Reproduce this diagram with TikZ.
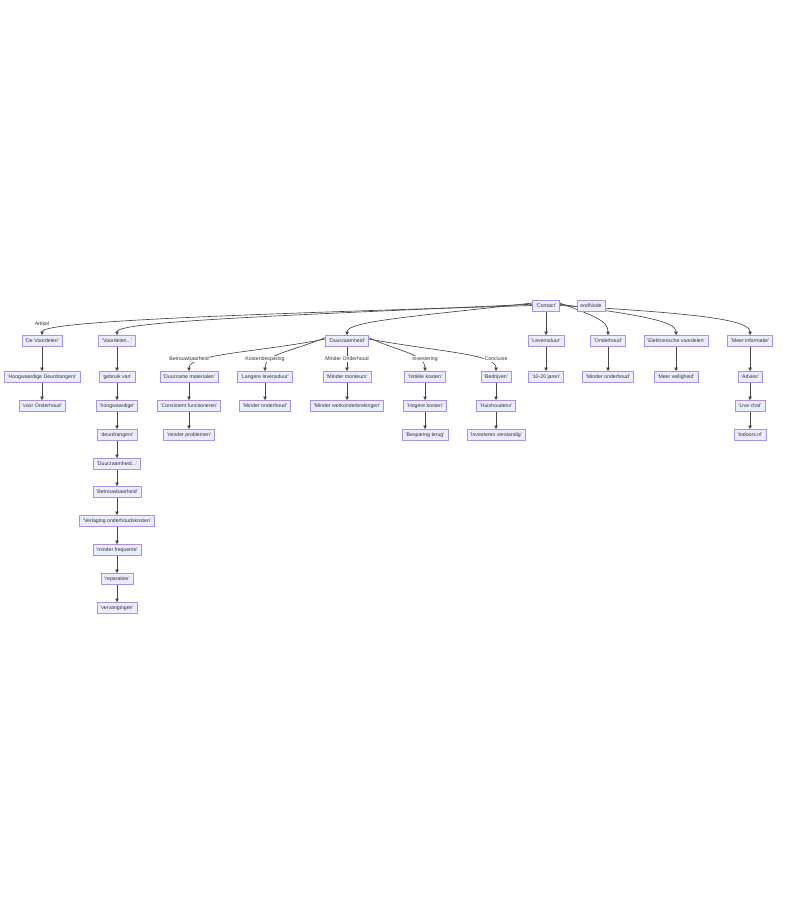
\documentclass[tikz,border=0pt]{standalone}
\usepackage{fontspec}
\setmainfont{Liberation Sans}[Ligatures=TeXOff]
\usetikzlibrary{arrows.meta}
\definecolor{nfill}{RGB}{236,236,255}
\definecolor{nstroke}{RGB}{170,145,230}
\definecolor{ink}{RGB}{51,51,51}
\definecolor{lnk}{RGB}{70,70,70}
\pgfdeclarelayer{bg}
\pgfsetlayers{bg,main}
\tikzset{
  nd/.style={draw=nstroke, fill=nfill, line width=0.5pt, text=ink,
    font=\fontsize{5.2}{6}\selectfont, minimum height=11pt, inner xsep=3.4pt, inner ysep=0pt},
  edge/.style={draw=lnk, line width=0.65pt, -{Triangle[length=3.6pt,width=3.4pt]}},
  lbl/.style={fill=white, text=ink, font=\fontsize{5.2}{6}\selectfont, inner sep=0.6pt}
}
\begin{document}
\begin{tikzpicture}[x=1pt,y=-1pt]
\useasboundingbox (0,0) rectangle (784,915);
% root
\node[nd] (contact) at (546,306) {'Contact'};
\node[nd] (endn) at (591,306) {endNode};
% level 1
\node[nd] (dv) at (42,341) {'De Voordelen'};
\node[nd] (vd) at (117,341) {'Voordelen...'};
\node[nd] (dz) at (347,341) {'Duurzaamheid'};
\node[nd] (lv) at (546,341) {'Levensduur'};
\node[nd] (oh) at (608,341) {'Onderhoud'};
\node[nd] (ev) at (676,341) {'Elektronische voordelen'};
\node[nd] (mi) at (750,341) {'Meer informatie'};
% column De Voordelen
\node[nd] (hd) at (42,377) {'Hoogwaardige Deurdrangers'};
\node[nd] (vo) at (42,406) {'voor Onderhoud'};
% column Voordelen...
\node[nd] (gv) at (117,377) {'gebruik van'};
\node[nd] (hw) at (117,406) {'hoogwaardige'};
\node[nd] (dd) at (117,435) {'deurdrangers'};
\node[nd] (dzz) at (117,464) {'Duurzaamheid...'};
\node[nd] (bt) at (117,492) {'Betrouwbaarheid'};
\node[nd] (vok) at (117,521) {'Verlaging onderhoudskosten'};
\node[nd] (mf) at (117,550) {'minder frequente'};
\node[nd] (rp) at (117,579) {'reparaties'};
\node[nd] (vv) at (117,608) {'vervangingen'};
% Duurzaamheid children
\node[nd] (dm) at (189,377) {'Duurzame materialen'};
\node[nd] (cf) at (189,406) {'Consistent functioneren'};
\node[nd] (mp) at (189,435) {'minder problemen'};
\node[nd] (ll) at (265,377) {'Langere levensduur'};
\node[nd] (mo) at (265,406) {'Minder onderhoud'};
\node[nd] (mm) at (347,377) {'Minder monteurs'};
\node[nd] (mw) at (347,406) {'Minder werkonderbrekingen'};
\node[nd] (ik) at (425,377) {'Initiële kosten'};
\node[nd] (hk) at (425,406) {'Hogere kosten'};
\node[nd] (bs) at (425,435) {'Besparing terug'};
\node[nd] (bj) at (496,377) {'Bedrijven'};
\node[nd] (hh) at (496,406) {'Huishoudens'};
\node[nd] (iv) at (496,435) {'Investeren verstandig'};
% right columns
\node[nd] (jr) at (546,377) {'10-20 jaren'};
\node[nd] (mo2) at (608,377) {'Minder onderhoud'};
\node[nd] (mv) at (676,377) {'Meer veiligheid'};
\node[nd] (ad) at (750,377) {'Advies'};
\node[nd] (lc) at (750,406) {'Live chat'};
\node[nd] (td) at (750,435) {'todoors.nl'};

\begin{pgfonlayer}{bg}
% edges from Contact
\draw[edge] ([yshift=0.5pt]contact.west) .. controls (250,314) and (42,321) .. (dv.north);
\draw[edge] ([yshift=1.8pt]contact.west) .. controls (300,315) and (117,321) .. (vd.north);
\draw[edge] ([yshift=3pt]contact.west) .. controls (420,316) and (347,321) .. (dz.north);
\draw[edge] (contact.south) -- (lv.north);
\draw[edge] ([yshift=3pt]contact.east) .. controls (595,316) and (608,321) .. (oh.north);
\draw[edge] ([yshift=1.8pt]contact.east) .. controls (640,315) and (676,321) .. (ev.north);
\draw[edge] ([yshift=0.5pt]contact.east) .. controls (690,313) and (750,319) .. (mi.north);

% Duurzaamheid children edges
\draw[edge] ([yshift=2pt]dz.west) .. controls (260,352) and (189,354) .. (dm.north);
\draw[edge] ([yshift=3.5pt]dz.west) .. controls (290,352) and (265,354) .. (ll.north);
\draw[edge] (dz.south) -- (mm.north);
\draw[edge] ([yshift=3.5pt]dz.east) .. controls (400,352) and (425,354) .. (ik.north);
\draw[edge] ([yshift=2pt]dz.east) .. controls (440,352) and (496,354) .. (bj.north);

% vertical chains
\foreach \a/\b in {dv/hd, hd/vo, vd/gv, gv/hw, hw/dd, dd/dzz, dzz/bt, bt/vok, vok/mf, mf/rp, rp/vv,
  dm/cf, cf/mp, ll/mo, mm/mw, ik/hk, hk/bs, bj/hh, hh/iv, lv/jr, oh/mo2, ev/mv, mi/ad, ad/lc, lc/td}
  \draw[edge] (\a.south) -- (\b.north);
\end{pgfonlayer}

\node[lbl] (l0) at (42,324) {Artikel};
\node[lbl] (l1) at (189,359) {Betrouwbaarheid};
\node[lbl] (l2) at (265,359) {Kostenbesparing};
\node[lbl] (l3) at (347,359) {Minder Onderhoud};
\node[lbl] (l4) at (425,359) {Investering};
\node[lbl] (l5) at (496,359) {Conclusie};
\end{tikzpicture}
\end{document}
